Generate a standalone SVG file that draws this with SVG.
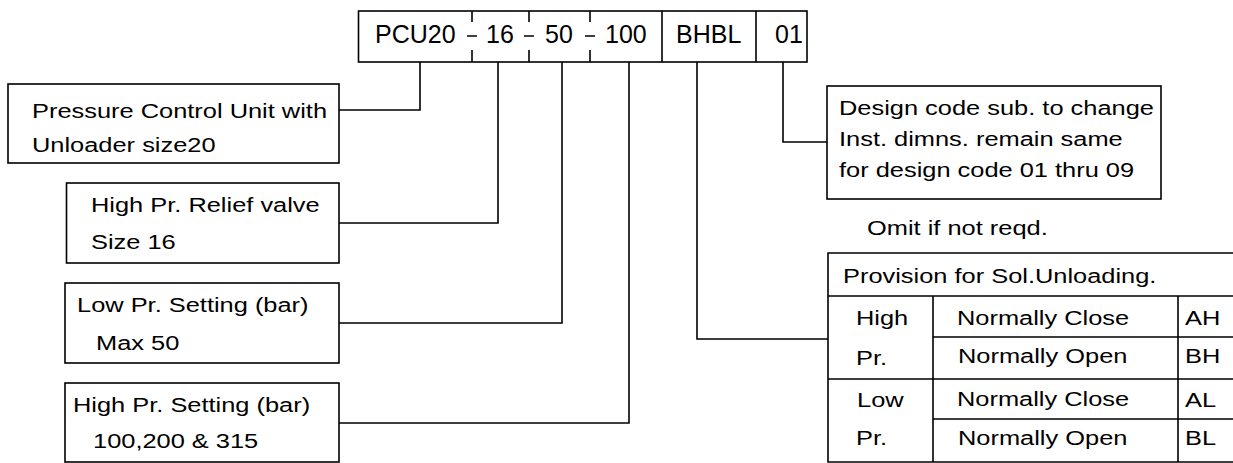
<svg xmlns="http://www.w3.org/2000/svg" width="1233" height="463" viewBox="0 0 1233 463">
<style>
.b{fill:#fff;stroke:#000;stroke-width:1.6}
.l{fill:none;stroke:#000;stroke-width:1.6}
text{font-family:"Liberation Sans",Arial,sans-serif;fill:#000}
.t{font-size:20px}
.big{font-size:25px}
</style>
<rect width="1233" height="463" fill="#fff"/>
<g id="code">
<rect class="b" x="358.5" y="11" width="448.5" height="51"/>
<path class="l" d="M472 11V22M472 50V62M529 11V22M529 50V62M590 11V22M590 50V62M662 11V62M756 11V62M467 36H477M524 36H534M585 36H595"/>
<text class="big" x="375" y="43">PCU20</text>
<text class="big" x="486" y="43">16</text>
<text class="big" x="545" y="43">50</text>
<text class="big" x="605" y="43">100</text>
<text class="big" x="676" y="43">BHBL</text>
<text class="big" x="775" y="43">01</text>
</g>
<g id="connectors">
<path class="l" d="M420 62V110H339M498 62V223H339M562 62V323H339M629 62V423H339M697 62V339H828M783 62V142H827"/>
</g>
<g id="n1">
<rect class="b" x="8" y="84" width="331" height="79"/>
<text class="t" transform="translate(32,118) scale(1.27,1)">Pressure Control Unit with</text>
<text class="t" transform="translate(32,152) scale(1.27,1)">Unloader size20</text>
</g>
<g id="n2">
<rect class="b" x="66.5" y="183" width="272.5" height="80"/>
<text class="t" transform="translate(91,212) scale(1.27,1)">High Pr. Relief valve</text>
<text class="t" transform="translate(91,249) scale(1.27,1)">Size 16</text>
</g>
<g id="n3">
<rect class="b" x="65" y="283" width="274" height="80"/>
<text class="t" transform="translate(77,312) scale(1.27,1)">Low Pr. Setting (bar)</text>
<text class="t" transform="translate(96,350) scale(1.27,1)">Max 50</text>
</g>
<g id="n4">
<rect class="b" x="65" y="383" width="274" height="79"/>
<text class="t" transform="translate(73,412) scale(1.27,1)">High Pr. Setting (bar)</text>
<text class="t" transform="translate(93,448) scale(1.27,1)">100,200 &amp; 315</text>
</g>
<g id="n5">
<rect class="b" x="827" y="86" width="334" height="113"/>
<text class="t" transform="translate(839,115) scale(1.27,1)">Design code sub. to change</text>
<text class="t" transform="translate(839,146) scale(1.27,1)">Inst. dimns. remain same</text>
<text class="t" transform="translate(839,177) scale(1.27,1)">for design code 01 thru 09</text>
</g>
<g id="note">
<text class="t" transform="translate(867,235) scale(1.27,1)">Omit if not reqd.</text>
</g>
<g id="table">
<path class="l" d="M1240 253H828V462H1240M828 296H1240M828 379H1240M933 337H1240M933 419H1240M933 296V462M1178 296V462"/>
<text class="t" transform="translate(843,283) scale(1.27,1)">Provision for Sol.Unloading.</text>
<text class="t" transform="translate(856,325) scale(1.27,1)">High</text>
<text class="t" transform="translate(856,365) scale(1.27,1)">Pr.</text>
<text class="t" transform="translate(857,407) scale(1.27,1)">Low</text>
<text class="t" transform="translate(856,445) scale(1.27,1)">Pr.</text>
<text class="t" transform="translate(957,325) scale(1.27,1)">Normally Close</text>
<text class="t" transform="translate(958,363) scale(1.27,1)">Normally Open</text>
<text class="t" transform="translate(957,406) scale(1.27,1)">Normally Close</text>
<text class="t" transform="translate(958,445) scale(1.27,1)">Normally Open</text>
<text class="t" transform="translate(1185,325) scale(1.27,1)">AH</text>
<text class="t" transform="translate(1185,363) scale(1.27,1)">BH</text>
<text class="t" transform="translate(1185,407) scale(1.27,1)">AL</text>
<text class="t" transform="translate(1185,445) scale(1.27,1)">BL</text>
</g>
</svg>
